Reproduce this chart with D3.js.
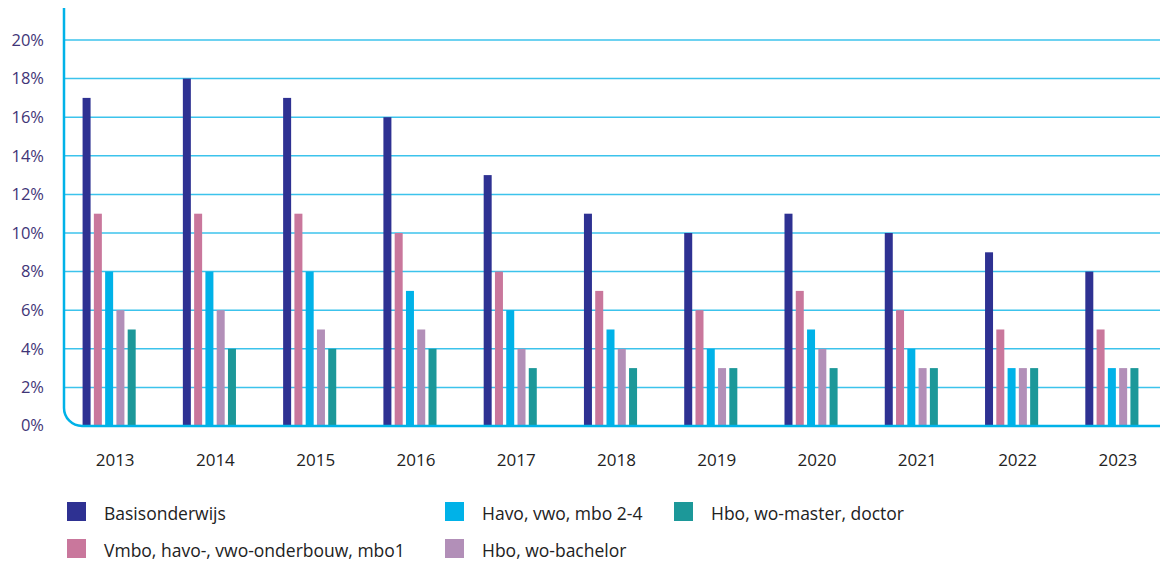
<!DOCTYPE html>
<html><head><meta charset="utf-8">
<script src="https://cdn.jsdelivr.net/npm/d3@7"></script>
<style>
body{margin:0;background:#fff;}
text{font-family:"Open Sans",sans-serif;}
</style></head>
<body><svg id="c" width="1165" height="563"></svg>
<script>
const years = ["2013","2014","2015","2016","2017","2018","2019","2020","2021","2022","2023"];
const seriesNames = ["Basisonderwijs","Vmbo, havo-, vwo-onderbouw, mbo1","Havo, vwo, mbo 2-4","Hbo, wo-bachelor","Hbo, wo-master, doctor"];
const basis = [17,18,17,16,13,11,10,11,10,9,8];
const vmbo = [11,11,11,10,8,7,6,7,6,5,5];
const havo = [8,8,8,7,6,5,4,5,4,3,3];
const bachelor = [6,6,5,5,4,4,3,4,3,3,3];
const master = [5,4,4,4,3,3,3,3,3,3,3];
const yTicks = [0,2,4,6,8,10,12,14,16,18,20];
const colors = ["#2e3192","#c9779c","#00b2e8","#b28fb8","#1c9899"];

const allSeries = [basis,vmbo,havo,bachelor,master];
const svg = d3.select("#c");
const mL=64, mR=1160, mT=8, mB=426;
const x = d3.scaleBand().domain(years).range([59,1162]);
const y = d3.scaleLinear().domain([0,20]).range([mB,40]);
const xs = d3.scaleBand().domain(d3.range(5)).range([-26.5,26.5]).paddingInner(0.3);

// grid
svg.append("g").selectAll("line").data(yTicks.filter(d=>d>0)).join("line")
  .attr("x1",mL).attr("x2",mR).attr("y1",d=>y(d)).attr("y2",d=>y(d))
  .attr("stroke","#3cc3ec").attr("stroke-width",1.5);

// bars
const g = svg.append("g");
allSeries.forEach((s,i)=>{
  g.append("g").selectAll("rect").data(s).join("rect")
   .attr("x",(d,j)=>x(years[j])+x.bandwidth()/2 + xs(i) + xs.bandwidth()/2 - 4)
   .attr("width",8)
   .attr("y",d=>y(d)).attr("height",d=>mB-y(d))
   .attr("fill",colors[i]);
});

// axis frame with rounded corner
const r=18;
svg.append("path")
  .attr("d",`M${mL},${mT} L${mL},${mB-r} A${r},${r} 0 0 0 ${mL+r},${mB} L${mR},${mB}`)
  .attr("fill","none").attr("stroke","#00b2e8").attr("stroke-width",2.5);

// y ticks labels
svg.append("g").selectAll("text").data(yTicks).join("text")
  .attr("x",44).attr("y",d=>y(d)+ (d===0? -1:0)).attr("dy","0.35em")
  .attr("text-anchor","end").attr("font-size",16.5).attr("fill","#3f3577")
  .text(d=>d+"%");

// x labels
svg.append("g").selectAll("text").data(years).join("text")
  .attr("x",d=>x(d)+x.bandwidth()/2+6).attr("y",466)
  .attr("text-anchor","middle").attr("font-size",17).attr("fill","#222")
  .text(d=>d);

// legend
const legPos = [[67,502],[67,539],[445,502],[445,539],[674,502]];
const lg = svg.append("g");
seriesNames.forEach((n,i)=>{
  const [lx,ly]=legPos[i];
  lg.append("rect").attr("x",lx).attr("y",ly).attr("width",19).attr("height",19).attr("fill",colors[i]);
  lg.append("text").attr("x",lx+37).attr("y",ly+18).attr("font-size",17.5).attr("fill","#222").text(n);
});
</script></body></html>
